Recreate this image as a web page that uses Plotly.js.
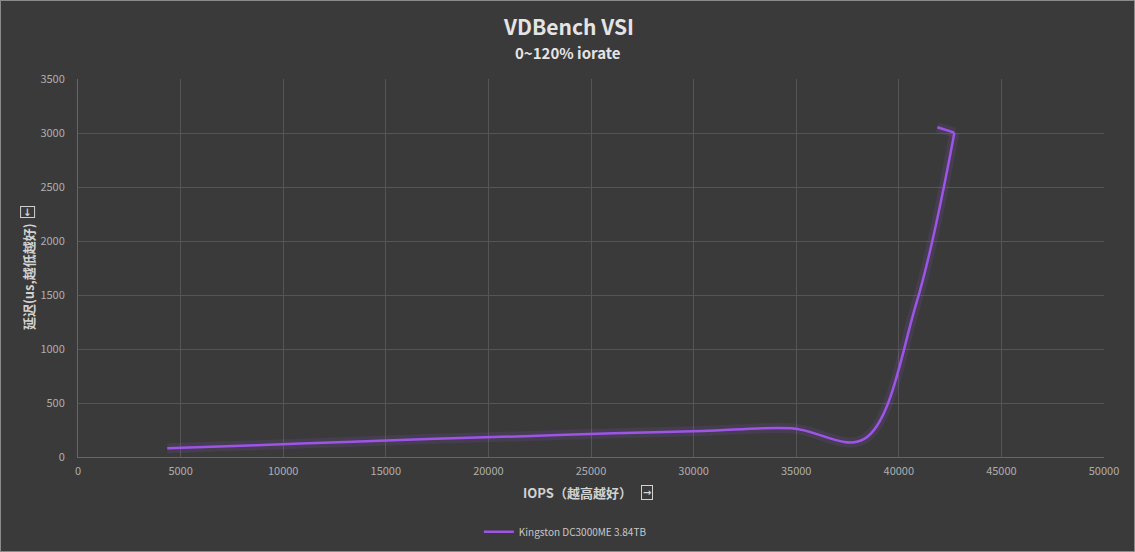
<!DOCTYPE html>
<html>
<head>
<meta charset="utf-8">
<script src="https://cdn.plot.ly/plotly-3.0.1.min.js"></script>
<style>
  html, body { margin: 0; padding: 0; background: #3a3a3a; }
  #chart { width: 1135px; height: 552px; }
  #frame { position: absolute; left: 0; top: 0; width: 1133px; height: 550px; border: 1px solid #8a8a8a; pointer-events: none; }
</style>
</head>
<body>
<div id="chart"></div>
<div id="frame"></div>
<script>
// VDBench VSI, iorate 10% .. 120%
const seriesName = 'Kingston DC3000ME 3.84TB';
const iops = [4350, 8700, 13050, 17400, 21750, 26100, 30450, 34780, 38300, 40850, 42710, 41880];
const latency = [80, 108, 140, 168, 193, 219, 240, 266, 165, 1420, 3003, 3053];

const xTicks = [0, 5000, 10000, 15000, 20000, 25000, 30000, 35000, 40000, 45000, 50000];
const yTicks = [0, 500, 1000, 1500, 2000, 2500, 3000, 3500];

const lineColor = '#9d55e6';
const gridColor = '#555555';
const tickColor = '#aeaeae';
const labelColor = '#d2d2d2';
const font = '"Noto Sans CJK SC", "Open Sans", sans-serif';

// the curve is smooth up to the peak, the overloaded run falls back in a straight line
const peak = 10;
const smoothX = iops.slice(0, peak + 1), smoothY = latency.slice(0, peak + 1);
const tailX = iops.slice(peak), tailY = latency.slice(peak);

function part(x, y, shape, width, color, name, legend) {
    return {
        x: x, y: y, name: name,
        type: 'scatter', mode: 'lines',
        line: {shape: shape, smoothing: 1, width: width, color: color},
        showlegend: legend, hoverinfo: 'skip'
    };
}

const traces = [
    part(smoothX, smoothY, 'spline', 10, 'rgba(157,85,230,0.13)', 'glow', false),
    part(tailX, tailY, 'linear', 10, 'rgba(157,85,230,0.13)', 'glow', false),
    part(smoothX, smoothY, 'spline', 2.5, lineColor, seriesName, true),
    part(tailX, tailY, 'linear', 2.5, lineColor, seriesName, false)
];

function note(text, x, y, size, color, angle) {
    return {
        text: text, xref: 'paper', yref: 'paper', x: x, y: y,
        xanchor: 'center', yanchor: 'middle',
        showarrow: false, textangle: angle || 0,
        font: {size: size, color: color}
    };
}

function boxArrow(x, y, angle) {
    const a = note('<b>→</b>', x, y, 10, labelColor, angle);
    a.font.family = 'DejaVu Sans';
    a.bordercolor = labelColor;
    a.borderwidth = 1;
    a.borderpad = 1;
    return a;
}

const layout = {
    width: 1135, height: 552,
    paper_bgcolor: '#3a3a3a',
    plot_bgcolor: '#3a3a3a',
    margin: {t: 79, b: 95, l: 78, r: 31, autoexpand: false},
    font: {family: font, color: tickColor, size: 11},
    xaxis: {
        range: [0, 50000],
        tickvals: xTicks,
        ticktext: xTicks.map(String),
        showgrid: true, gridcolor: gridColor, gridwidth: 1,
        zeroline: false,
        showline: true, linecolor: '#666666',
        ticks: '',
        ticklabelstandoff: 4,
        tickfont: {size: 11, color: tickColor}
    },
    yaxis: {
        range: [0, 3500],
        tickvals: yTicks,
        ticktext: yTicks.map(String),
        showgrid: true, gridcolor: gridColor, gridwidth: 1,
        zeroline: false,
        showline: true, linecolor: '#666666',
        ticks: '',
        ticklabelstandoff: 10,
        tickfont: {size: 11, color: tickColor}
    },
    annotations: [
        note('<b>VDBench VSI</b>', 0.478, 1.14, 21, '#e4e4e4'),
        note('<b>0~120% iorate</b>', 0.478, 1.071, 15, '#e4e4e4'),
        note('<b>IOPS（越高越好）</b>', 0.487, -0.095, 13, labelColor),
        boxArrow(0.5546, -0.095, 0),
        note('<b>延迟(us,越低越好)</b>', -0.0487, 0.476, 13, labelColor, -90),
        boxArrow(-0.0487, 0.648, 90)
    ],
    showlegend: true,
    legend: {
        orientation: 'h',
        x: 0.475, xanchor: 'center',
        y: -0.198, yanchor: 'middle',
        font: {size: 10, color: '#c8c8c8'},
        bgcolor: 'rgba(0,0,0,0)'
    }
};

Plotly.newPlot('chart', traces, layout, {displayModeBar: false, staticPlot: true});
</script>
</body>
</html>
